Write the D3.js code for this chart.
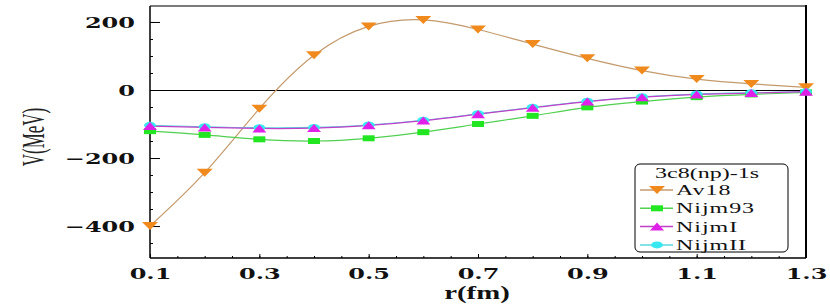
<!DOCTYPE html>
<html>
<head>
<meta charset="utf-8">
<script src="https://cdn.jsdelivr.net/npm/d3@7"></script>
<style>
	body { margin: 0; background: #fff; }
	svg { display: block; }
</style>
</head>
<body>
<div id="chart"></div>
<script>
"use strict";

//  Chart data
const rValues = [0.1, 0.2, 0.3, 0.4, 0.5, 0.6, 0.7, 0.8, 0.9, 1.0, 1.1, 1.2, 1.3];
const av18    = [-400, -243, -55, 102, 187, 206, 178, 135, 93, 57, 32, 18, 8];
const nijm93  = [-121, -132, -145, -150, -142, -124, -100, -76, -51, -34, -21, -13, -7];
const nijmI   = [-106, -110, -113, -112, -104, -90, -71, -52, -34, -21, -13, -9, -5];
const nijmII  = [-104, -108, -111, -110, -103, -89, -70, -51, -33, -20, -12, -8, -5];
const xMajorTicks = [0.1, 0.3, 0.5, 0.7, 0.9, 1.1, 1.3];
const yMajorTicks = [-400, -200, 0, 200];
const legendTitle = '3c8(np)-1s';

const series = [
	{ name: 'Av18',   values: av18,   line: '#c49a6c', fill: '#f08a1c', shape: 'down' },
	{ name: 'Nijm93', values: nijm93, line: '#4fd04f', fill: '#22e622', shape: 'square' },
	{ name: 'NijmII', values: nijmII, line: '#5ad8e0', fill: '#38e8f0', shape: 'circle' },
	{ name: 'NijmI',  values: nijmI,  line: '#c040c8', fill: '#e020e8', shape: 'up' },
];
const legendOrder = ['Av18', 'Nijm93', 'NijmI', 'NijmII'];

const width = 830, height = 306;
const stretch = 1.6;   // the picture is widened horizontally, text too

const svg = d3.select('#chart').append('svg')
	.attr('width', width)
	.attr('height', height);

const x = d3.scaleLinear().domain([0.1, 1.3]).range([150, 806]);
const y = d3.scaleLinear().domain([-494, 247]).range([258, 6]);

//  Frame
svg.append('line')
	.attr('x1', 150).attr('x2', 806).attr('y1', 6).attr('y2', 6)
	.attr('stroke', '#7a7a7a').attr('stroke-width', 2);
svg.append('line')
	.attr('x1', 806).attr('x2', 806).attr('y1', 5).attr('y2', 258)
	.attr('stroke', '#000').attr('stroke-width', 2);

//  Zero line
svg.append('line')
	.attr('x1', 150).attr('x2', 806).attr('y1', Math.round(y(0)) + 0.5).attr('y2', Math.round(y(0)) + 0.5)
	.attr('stroke', '#000').attr('stroke-width', 1)
	.attr('shape-rendering', 'crispEdges');

//  Axes
function tickRange(lo, hi, step)
{
	let out = [];
	for (let v = lo; v <= hi + 1e-9; v += step) out.push(+v.toFixed(3));
	return out;
}

svg.append('g')
	.attr('transform', 'translate(0,258)')
	.call(d3.axisBottom(x).tickValues(tickRange(0.15, 1.25, 0.05)).tickSize(-2).tickFormat(''))
	.call(g => g.select('.domain').remove());

svg.append('g')
	.attr('transform', 'translate(150,0)')
	.call(d3.axisLeft(y).tickValues(tickRange(-450, 200, 50)).tickSize(-3).tickFormat(''))
	.call(g => g.select('.domain').remove());

const xAxis = svg.append('g')
	.attr('transform', 'translate(0,258)')
	.call(d3.axisBottom(x).tickValues(xMajorTicks).tickSize(-4).tickFormat(d3.format('.1f')));
xAxis.select('.domain').attr('stroke-width', 1.5).attr('d', 'M150,0H806');
xAxis.selectAll('text')
	.attr('y', null).attr('dy', null)
	.attr('transform', `translate(0,21) scale(${stretch},1)`)
	.attr('font-family', '"DejaVu Serif", serif')
	.attr('font-weight', 'bold')
	.attr('font-size', 15)
	.attr('fill', '#111');

const yAxis = svg.append('g')
	.attr('transform', 'translate(150,0)')
	.call(d3.axisLeft(y).tickValues(yMajorTicks).tickSize(-10).tickFormat(d3.format('d')));
yAxis.select('.domain').attr('stroke-width', 1.5).attr('d', 'M0,6V258');
yAxis.selectAll('text')
	.attr('x', null)
	.attr('dy', '0.36em')
	.attr('transform', `translate(-15,0) scale(${stretch},1)`)
	.attr('font-family', '"DejaVu Serif", serif')
	.attr('font-weight', 'bold')
	.attr('font-size', 15)
	.attr('fill', '#111');

//  Axis titles
svg.append('text')
	.attr('transform', `translate(33,137) scale(1.85,1) rotate(-90)`)
	.attr('text-anchor', 'middle')
	.attr('dy', '0.35em')
	.attr('font-family', '"Liberation Serif", serif')
	.attr('font-size', 17)
	.attr('fill', '#222')
	.text('V(MeV)');

svg.append('text')
	.attr('transform', `translate(477,299) scale(${stretch},1)`)
	.attr('text-anchor', 'middle')
	.attr('font-family', '"Liberation Serif", serif')
	.attr('font-weight', 'bold')
	.attr('font-size', 18)
	.attr('fill', '#111')
	.text('r(fm)');

//  Markers
function drawMarker(g, shape, fill)
{
	if (shape === 'down')
		g.append('path').attr('d', 'M-8,-4L8,-4L0,4Z').attr('fill', fill);
	else if (shape === 'up')
		g.append('path').attr('d', 'M-7,4L7,4L0,-4Z').attr('fill', fill);
	else if (shape === 'square')
		g.append('rect').attr('x', -6).attr('y', -3).attr('width', 12).attr('height', 6).attr('fill', fill);
	else
		g.append('ellipse').attr('rx', 6).attr('ry', 3.5).attr('fill', fill);
}

const line = d3.line()
	.x((d, i) => x(rValues[i]))
	.y(d => y(d))
	.curve(d3.curveNatural);

series.forEach(s =>
{
	svg.append('path')
		.attr('d', line(s.values))
		.attr('fill', 'none')
		.attr('stroke', s.line)
		.attr('stroke-width', 1.2);
});

series.forEach(s =>
{
	svg.append('g').selectAll('g')
		.data(s.values)
		.join('g')
		.attr('transform', (d, i) => `translate(${x(rValues[i])},${y(d)})`)
		.each(function() { drawMarker(d3.select(this), s.shape, s.fill); });
});

//  Legend
const legend = svg.append('g');
legend.append('rect')
	.attr('x', 635).attr('y', 164)
	.attr('width', 153).attr('height', 88)
	.attr('rx', 5)
	.attr('fill', '#fff')
	.attr('stroke', '#000')
	.attr('stroke-width', 1);

legend.append('text')
	.attr('transform', `translate(707,178) scale(${stretch},1)`)
	.attr('text-anchor', 'middle')
	.attr('font-family', '"Liberation Serif", serif')
	.attr('font-size', 15)
	.attr('fill', '#111')
	.text(legendTitle);

legendOrder.forEach((name, i) =>
{
	const s = series.find(d => d.name === name);
	const cy = 190 + i * 18.3;
	legend.append('line')
		.attr('x1', 640).attr('x2', 673).attr('y1', cy).attr('y2', cy)
		.attr('stroke', s.line).attr('stroke-width', 1.5);
	drawMarker(legend.append('g').attr('transform', `translate(657,${cy})`), s.shape, s.fill);
	legend.append('text')
		.attr('transform', `translate(676,${cy + 5}) scale(${stretch},1)`)
		.attr('font-family', '"Liberation Serif", serif')
		.attr('font-size', 15)
		.attr('letter-spacing', 0.6)
		.attr('fill', '#111')
		.text(name);
});
</script>
</body>
</html>
